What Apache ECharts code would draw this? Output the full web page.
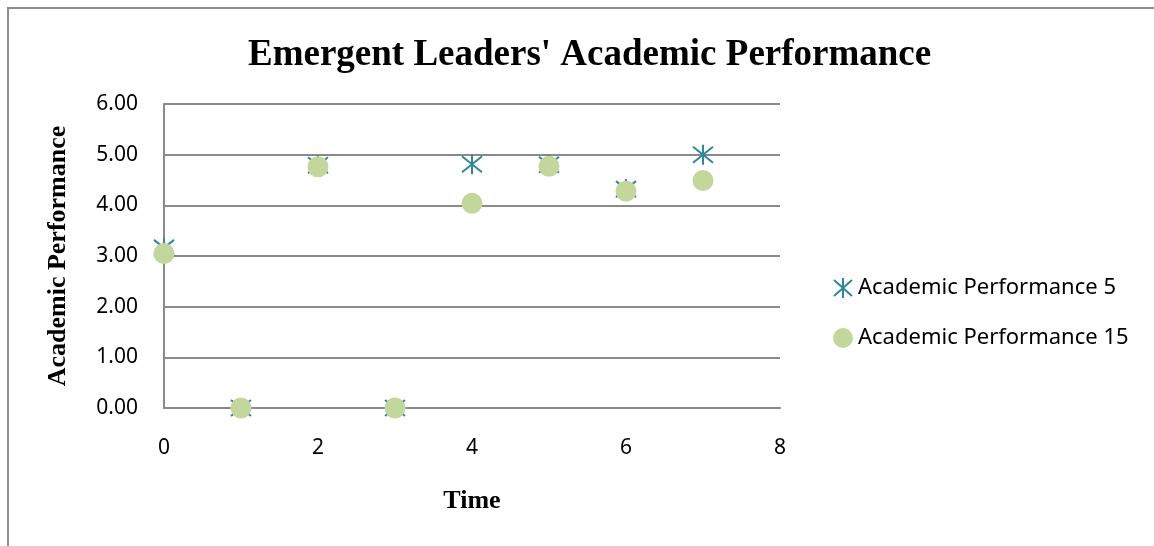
<!DOCTYPE html>
<html>
<head>
<meta charset="utf-8">
<title>Emergent Leaders' Academic Performance</title>
<script src="https://cdn.jsdelivr.net/npm/echarts@6/dist/echarts.min.js"></script>
<style>
    html, body { margin: 0; padding: 0; background: #fff; }
    #chart { width: 1154px; height: 546px; }
</style>
</head>
<body>
<div id="chart"></div>
<script>
// values
const timePoints = [0, 1, 2, 3, 4, 5, 6, 7];
const perf5 = [3.16, 0, 4.79, 0, 4.81, 4.80, 4.32, 5.0];
const perf15 = [3.05, 0, 4.76, 0, 4.04, 4.77, 4.28, 4.49];
const xTicks = [0, 2, 4, 6, 8];
const yTicks = ['0.00', '1.00', '2.00', '3.00', '4.00', '5.00', '6.00'];

const seriesNames = ['Academic Performance 5', 'Academic Performance 15'];

const labelFont = '"Noto Sans", sans-serif';
const serifFont = '"Liberation Serif", "DejaVu Serif", serif';
const gridColor = '#8a8a8a';

// excel style star marker: X with a vertical stroke
const starPath = 'path://M10,0L10,20M1,2L19,18M19,2L1,18';

function toPairs(xs, ys) {
    return xs.map((x, i) => [x, ys[i]]);
}

const chart = echarts.init(document.getElementById('chart'));

const option = {
    animation: false,
    backgroundColor: '#fff',
    title: {
        text: "Emergent Leaders' Academic Performance",
        left: 243,
        top: 32,
        textStyle: {
            fontFamily: serifFont,
            fontWeight: 'bold',
            fontSize: 37,
            color: '#000',
        },
    },
    graphic: [
        {
            type: 'rect',
            shape: { x: 8, y: 8, width: 1170, height: 570 },
            style: { fill: 'none', stroke: '#8c8c8c', lineWidth: 2 },
            silent: true,
        },
    ],
    legend: {
        orient: 'vertical',
        left: 828,
        top: 272,
        itemWidth: 20,
        itemHeight: 20,
        itemGap: 28,
        textStyle: {
            fontFamily: labelFont,
            fontSize: 22,
            color: '#000',
        },
        data: seriesNames,
    },
    grid: {
        left: 164,
        right: 374,
        top: 104,
        bottom: 138,
    },
    xAxis: {
        type: 'value',
        min: 0,
        max: 8,
        interval: 2,
        name: 'Time',
        nameLocation: 'middle',
        nameGap: 80,
        nameTextStyle: {
            fontFamily: serifFont,
            fontWeight: 'bold',
            fontSize: 26,
            color: '#000',
        },
        axisLine: { show: true, lineStyle: { color: gridColor, width: 2 } },
        axisTick: { show: false },
        splitLine: { show: false },
        axisLabel: {
            margin: 30,
            fontFamily: labelFont,
            fontSize: 21,
            color: '#000',
            formatter: (v) => (xTicks.includes(v) ? String(v) : ''),
        },
    },
    yAxis: {
        type: 'value',
        min: 0,
        max: 6,
        interval: 1,
        name: 'Academic Performance',
        nameLocation: 'middle',
        nameRotate: 90,
        nameGap: 93,
        nameTextStyle: {
            fontFamily: serifFont,
            fontWeight: 'bold',
            fontSize: 26,
            color: '#000',
        },
        axisLine: { show: true, lineStyle: { color: gridColor, width: 2 } },
        axisTick: { show: false },
        splitLine: { show: true, lineStyle: { color: gridColor, width: 2 } },
        axisLabel: {
            margin: 26,
            fontFamily: labelFont,
            fontSize: 21,
            color: '#000',
            formatter: (v) => yTicks[Math.round(v)],
        },
    },
    series: [
        {
            name: seriesNames[0],
            type: 'scatter',
            symbol: starPath,
            symbolSize: 20,
            itemStyle: {
                color: 'rgba(0,0,0,0)',
                borderColor: '#31859c',
                borderWidth: 2,
                opacity: 1,
            },
            data: toPairs(timePoints, perf5),
            z: 2,
        },
        {
            name: seriesNames[1],
            type: 'scatter',
            symbol: 'circle',
            symbolSize: 21,
            itemStyle: {
                color: '#c3d69b',
                opacity: 1,
            },
            data: toPairs(timePoints, perf15),
            z: 3,
        },
    ],
};

chart.setOption(option);
</script>
</body>
</html>
